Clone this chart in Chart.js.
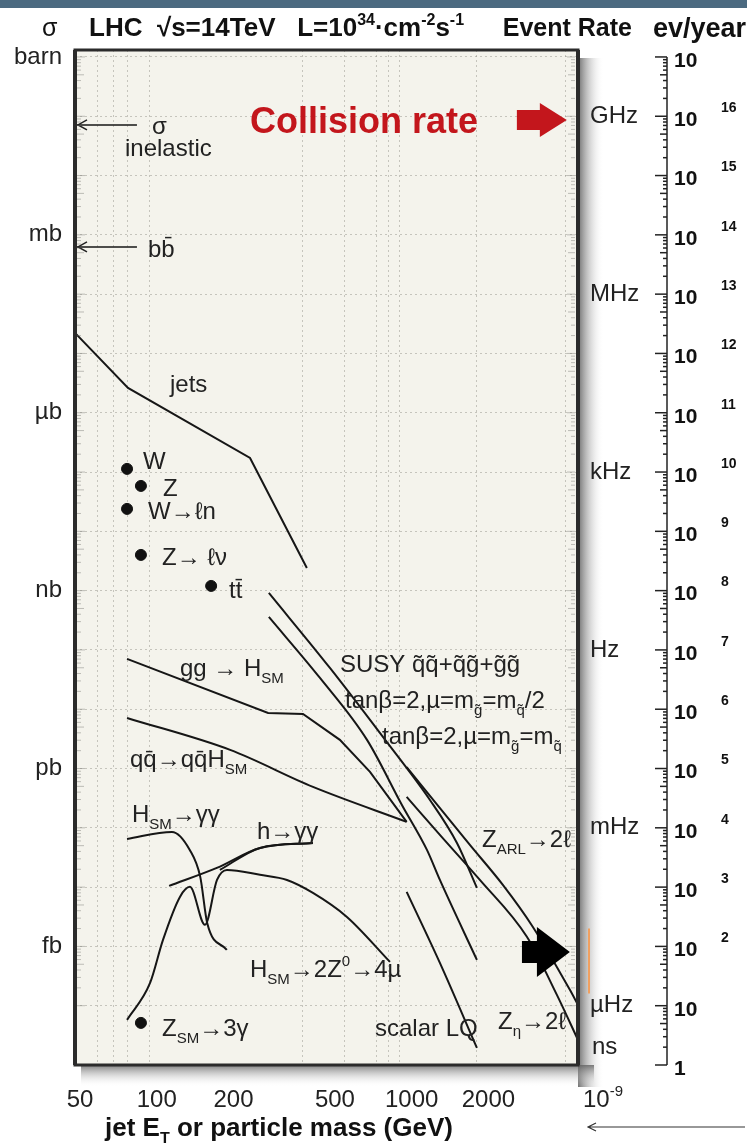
<!DOCTYPE html>
<html>
<head>
<meta charset="utf-8">
<title>LHC cross sections and event rates</title>
<script src="https://cdn.jsdelivr.net/npm/chart.js@4.4.1/dist/chart.umd.min.js"></script>
<style>
  html, body { margin: 0; padding: 0; background: #fff; }
  #box { width: 747px; height: 1143px; }
</style>
</head>
<body>
<div id="box"><canvas id="lhc" width="747" height="1143"></canvas></div>
<script>
const FONT = '"Liberation Sans", Arial, sans-serif';

// ranges: mass in GeV, sigma in barn
const massMin = 50, massMax = 4700;
const sigmaMin = 1e-17, sigmaMax = 1.31;
const toHz = 1e10;     // sigma[barn] * L(1e34 cm-2 s-1) -> Hz
const toYear = 1e17;   // ... * 1e7 s -> events / year

// tick lists
const massLabels = [50, 100, 200, 500, 1000, 2000];
const massGridLines = [61, 71, 80, 98, 391, 570, 760, 850, 940, 1880, 4200];
const sigmaExp = [0, -1, -2, -3, -4, -5, -6, -7, -8, -9, -10, -11, -12, -13, -14, -15, -16, -17];
const sigmaNames = { '0': 'barn', '-3': 'mb', '-6': 'µb', '-9': 'nb', '-12': 'pb', '-15': 'fb' };
const rateValues = [1e9, 1e6, 1e3, 1, 1e-3, 1e-6];
const rateNames = ['GHz', 'MHz', 'kHz', 'Hz', 'mHz', 'µHz'];
const yearExp = [17, 16, 15, 14, 13, 12, 11, 10, 9, 8, 7, 6, 5, 4, 3, 2, 1, 0];

// curves (x = GeV, y = barn)
const jetsX = [50, 80.7, 243, 406];
const jetsY = [2.22e-5, 2.62e-6, 1.73e-7, 2.41e-9];
const ggHX = [80, 286, 392, 547, 718, 1000];
const ggHY = [7.05e-11, 8.67e-12, 8.34e-12, 3.04e-12, 8.77e-13, 1.26e-13];
const qqHX = [80, 203, 429, 1000];
const qqHY = [7.13e-12, 2.06e-12, 4.90e-13, 1.26e-13];
const susyAX = [288, 500, 807, 1234, 1575, 1886];
const susyAY = [9.14e-10, 4.97e-11, 3.41e-12, 2.95e-13, 5.56e-14, 9.71e-15];
const susyBX = [288, 457, 699, 958, 1201, 1350, 1886];
const susyBY = [3.60e-10, 3.37e-11, 3.04e-12, 2.43e-13, 4.24e-14, 1.32e-14, 5.92e-16];
const zarlX = [1000, 1770, 2384, 3127, 4367, 4700];
const zarlY = [1.06e-12, 5.15e-14, 1.09e-14, 2.13e-15, 1.85e-16, 1.03e-16];
const zetaX = [1000, 1350, 1937, 2962, 3884, 4700];
const zetaY = [3.32e-13, 7.59e-14, 1.32e-14, 1.45e-15, 1.52e-16, 2.65e-17];
const lqX = [1000, 1350, 1886];
const lqY = [8.3e-15, 5.27e-16, 1.94e-17];
const hggX = [80, 120, 141, 155, 165, 197];
const hggY = [6.5e-14, 8.53e-14, 4.24e-14, 1.49e-14, 2.49e-15, 8.73e-16];
const hmssmX = [117, 180, 266, 429];
const hmssmY = [1.05e-14, 2.11e-14, 4.58e-14, 5.56e-14];
const hmssm2X = [185, 266, 429];
const hmssm2Y = [1.95e-14, 4.58e-14, 5.56e-14];
const h4muX = [80, 98.5, 110.7, 129, 141.2, 161.7, 180.3, 197.3, 265.8, 339.2, 428.9, 583, 860];
const h4muY = [5.77e-17, 2.42e-16, 1.29e-15, 6.84e-15, 1.01e-14, 2.31e-15, 1.32e-14, 1.95e-14, 1.61e-14, 1.32e-14, 7.98e-15, 3.14e-15, 5.48e-16];

// single processes (dots): W, Z, W->lnu, Z->ll, ttbar, Z->3gamma
const dotX = [80, 90.7, 80, 90.7, 171, 90.7];
const dotY = [1.13e-7, 5.83e-8, 2.39e-8, 4.0e-9, 1.2e-9, 5.13e-17];

// total inelastic and b-bbar marks on the sigma axis
const sigmaInel = 7.13e-2, sigmaBB = 6.25e-4, markEnd = 87.5;

// block arrows: [tail, head base, tip] in GeV, level in barn
const redArrow = { x: [2706, 3330, 4249], y: 0.0866 };
const blackArrow = { x: [2833, 3243, 4367], y: 8.07e-16 };

// text inside the plot
const notes = [
  { t: 'σ', x: 152, y: 125 },
  { t: 'inelastic', x: 125, y: 147 },
  { t: 'bb̄', x: 148, y: 248 },
  { t: 'jets', x: 170, y: 383 },
  { t: 'W', x: 143, y: 460 },
  { t: 'Z', x: 163, y: 487 },
  { t: 'W→ℓn', x: 148, y: 510 },
  { t: 'Z→ ℓν', x: 162, y: 556 },
  { t: 'tt̄', x: 229, y: 589 },
  { t: 'gg → H_{SM}', x: 180, y: 667 },
  { t: 'SUSY q̃q̃+q̃g̃+g̃g̃', x: 340, y: 663 },
  { t: 'tanβ=2,µ=m_{g̃}=m_{q̃}/2', x: 345, y: 699 },
  { t: 'tanβ=2,µ=m_{g̃}=m_{q̃}', x: 382, y: 735 },
  { t: 'qq̄→qq̄H_{SM}', x: 130, y: 758 },
  { t: 'H_{SM}→γγ', x: 132, y: 813 },
  { t: 'h→γγ', x: 257, y: 830 },
  { t: 'Z_{ARL}→2ℓ', x: 482, y: 838 },
  { t: 'H_{SM}→2Z^{0}→4µ', x: 250, y: 968 },
  { t: 'Z_{SM}→3γ', x: 162, y: 1027 },
  { t: 'scalar LQ', x: 375, y: 1027 },
  { t: 'Z_{η}→2ℓ', x: 498, y: 1020 }
];

const pts = (xs, ys) => xs.map((x, i) => ({ x: x, y: ys[i] }));

function curve(xs, ys, smooth) {
  return {
    type: 'line',
    data: pts(xs, ys),
    borderColor: '#161616',
    borderWidth: 2,
    pointRadius: 0,
    tension: smooth ? 0.3 : 0,
    cubicInterpolationMode: smooth ? 'monotone' : 'default',
    fill: false,
    xAxisID: 'x',
    yAxisID: 'y'
  };
}

function richText(ctx, str, x, yMid, size, weight, color) {
  const parts = [];
  const re = /([_^])\{([^}]*)\}/g;
  let last = 0, m;
  while ((m = re.exec(str))) {
    if (m.index > last) parts.push({ t: str.slice(last, m.index), s: 0 });
    parts.push({ t: m[2], s: m[1] === '_' ? 1 : -1 });
    last = re.lastIndex;
  }
  if (last < str.length) parts.push({ t: str.slice(last), s: 0 });
  const small = Math.round(size * 0.62);
  const base = yMid + size * 0.36;
  let cx = x;
  ctx.fillStyle = color;
  ctx.textAlign = 'left';
  ctx.textBaseline = 'alphabetic';
  parts.forEach(p => {
    ctx.font = weight + ' ' + (p.s ? small : size) + 'px ' + FONT;
    const dy = p.s === 1 ? size * 0.3 : p.s === -1 ? -size * 0.45 : 0;
    ctx.fillText(p.t, cx, base + dy);
    cx += ctx.measureText(p.t).width;
  });
  return cx;
}

function textWidth(ctx, str, size, weight) {
  ctx.font = weight + ' ' + size + 'px ' + FONT;
  return ctx.measureText(str).width;
}

function blockArrow(ctx, xs, ys, spec, body, head, color) {
  const x0 = xs.getPixelForValue(spec.x[0]);
  const x1 = xs.getPixelForValue(spec.x[1]);
  const x2 = xs.getPixelForValue(spec.x[2]);
  const y = ys.getPixelForValue(spec.y);
  ctx.fillStyle = color;
  ctx.beginPath();
  ctx.moveTo(x0, y - body / 2);
  ctx.lineTo(x1, y - body / 2);
  ctx.lineTo(x1, y - head / 2);
  ctx.lineTo(x2, y);
  ctx.lineTo(x1, y + head / 2);
  ctx.lineTo(x1, y + body / 2);
  ctx.lineTo(x0, y + body / 2);
  ctx.closePath();
  ctx.fill();
}

// log ruler ticks along a vertical line; dir = +1 ticks to the right, -1 to the left
function ruler(ctx, scale, exps, x, dir, major, minor) {
  exps.forEach(e => {
    const y = scale.getPixelForValue(Math.pow(10, e));
    ctx.beginPath();
    ctx.moveTo(x, y);
    ctx.lineTo(x + dir * major, y);
    ctx.stroke();
    for (let k = 2; k <= 9; k++) {
      const v = k * Math.pow(10, e);
      if (v > scale.max) break;
      const ym = scale.getPixelForValue(v);
      ctx.beginPath();
      ctx.moveTo(x, ym);
      ctx.lineTo(x + dir * (k === 5 ? minor + 3 : minor), ym);
      ctx.stroke();
    }
  });
}

const decor = {
  id: 'decor',
  beforeDraw(chart) {
    const { ctx, chartArea: a } = chart;
    ctx.save();
    ctx.fillStyle = '#fff';
    ctx.fillRect(0, 0, chart.width, chart.height);
    ctx.fillStyle = '#4b6a80';
    ctx.fillRect(0, 0, chart.width, 8);
    // shadow right and below the frame
    let g = ctx.createLinearGradient(a.right, 0, a.right + 26, 0);
    g.addColorStop(0, 'rgba(95,95,95,0.9)');
    g.addColorStop(1, 'rgba(255,255,255,0)');
    ctx.fillStyle = g;
    ctx.fillRect(a.right, a.top + 8, 26, a.bottom - a.top + 14);
    g = ctx.createLinearGradient(0, a.bottom, 0, a.bottom + 22);
    g.addColorStop(0, 'rgba(95,95,95,0.8)');
    g.addColorStop(1, 'rgba(255,255,255,0)');
    ctx.fillStyle = g;
    ctx.fillRect(a.left + 6, a.bottom, a.right - a.left + 10, 22);
    ctx.fillStyle = '#f4f3ec';
    ctx.fillRect(a.left, a.top, a.right - a.left, a.bottom - a.top);
    ctx.restore();
  },
  afterDraw(chart) {
    const { ctx, chartArea: a, scales } = chart;
    const xs = scales.x, ys = scales.y, yr = scales.year;
    ctx.save();

    // marks for sigma_inel and b-bbar
    ctx.strokeStyle = '#222';
    ctx.lineWidth = 1.5;
    [sigmaInel, sigmaBB].forEach(v => {
      const y = ys.getPixelForValue(v);
      const x0 = xs.getPixelForValue(massMin) + 3;
      ctx.beginPath();
      ctx.moveTo(x0 + 9, y - 5);
      ctx.lineTo(x0, y);
      ctx.lineTo(x0 + 9, y + 5);
      ctx.stroke();
    });

    blockArrow(ctx, xs, ys, redArrow, 20, 34, '#c3161c');
    blockArrow(ctx, xs, ys, blackArrow, 22, 50, '#000');

    // labels inside the frame
    ctx.save();
    ctx.beginPath();
    ctx.rect(a.left, a.top, a.right - a.left - 2, a.bottom - a.top);
    ctx.clip();
    notes.forEach(n => richText(ctx, n.t, n.x, n.y, 24, 'normal', '#222'));
    ctx.restore();
    richText(ctx, 'Collision rate', 250, 120, 36, 'bold', '#c3161c');

    // faint ruler ticks inside the frame
    ctx.strokeStyle = 'rgba(120,120,115,0.45)';
    ctx.lineWidth = 1;
    ruler(ctx, ys, sigmaExp.slice(0, 17), a.left + 2, 1, 8, 4);
    ruler(ctx, ys, sigmaExp.slice(0, 17), a.right - 3, -1, 8, 4);

    // frame
    ctx.strokeStyle = '#2b2b2b';
    ctx.lineWidth = 3;
    ctx.strokeRect(a.left, a.top, a.right - a.left, a.bottom - a.top);
    ctx.lineWidth = 4;
    ctx.beginPath();
    ctx.moveTo(a.left, a.top);
    ctx.lineTo(a.left, a.bottom);
    ctx.moveTo(a.right, a.top);
    ctx.lineTo(a.right, a.bottom);
    ctx.stroke();

    // events / year ruler
    const lineX = yr.left + 17;
    ctx.strokeStyle = '#222';
    ctx.lineWidth = 1.5;
    const yTop = yr.getPixelForValue(1e17), yBot = yr.getPixelForValue(1);
    ctx.beginPath();
    ctx.moveTo(lineX, yTop);
    ctx.lineTo(lineX, yBot);
    ctx.stroke();
    ruler(ctx, yr, yearExp.slice(1), lineX, -1, 12, 4);
    ctx.beginPath();
    ctx.moveTo(lineX - 12, yTop);
    ctx.lineTo(lineX, yTop);
    ctx.stroke();
    ctx.font = 'bold 14px ' + FONT;
    ctx.fillStyle = '#111';
    ctx.textAlign = 'left';
    ctx.textBaseline = 'middle';
    yearExp.forEach(e => {
      if (e >= 2 && e <= 16) ctx.fillText(String(e), 721, yr.getPixelForValue(Math.pow(10, e)) - 8);
    });

    // orange mark beside the frame
    ctx.strokeStyle = '#f0a060';
    ctx.lineWidth = 2;
    ctx.beginPath();
    ctx.moveTo(589, ys.getPixelForValue(2.0e-15));
    ctx.lineTo(589, ys.getPixelForValue(1.6e-16));
    ctx.stroke();

    // header
    richText(ctx, 'σ', 42, 27, 25, 'normal', '#111');
    richText(ctx, 'LHC  √s=14TeV   L=10^{34}·cm^{-2}s^{-1}', 89, 27, 26, 'bold', '#111');
    richText(ctx, 'Event Rate', 632 - textWidth(ctx, 'Event Rate', 25, 'bold'), 27, 25, 'bold', '#111');
    richText(ctx, 'ev/year', 746 - textWidth(ctx, 'ev/year', 27, 'bold'), 27, 27, 'bold', '#111');

    // extra texts on the right / bottom
    richText(ctx, 'ns', 592, 1045, 24, 'normal', '#222');
    richText(ctx, '10^{-9}', 583, 1098, 24, 'normal', '#222');
    richText(ctx, 'jet E_{T} or particle mass (GeV)', 105, 1127, 26, 'bold', '#111');
    ctx.strokeStyle = '#333';
    ctx.lineWidth = 1.2;
    ctx.beginPath();
    ctx.moveTo(745, 1127);
    ctx.lineTo(588, 1127);
    ctx.moveTo(596, 1123);
    ctx.lineTo(588, 1127);
    ctx.lineTo(596, 1131);
    ctx.stroke();
    ctx.restore();
  }
};

const gridStyle = { color: 'rgba(140,140,130,0.45)', lineWidth: 1, drawTicks: false };

new Chart(document.getElementById('lhc'), {
  data: {
    datasets: [
      curve(jetsX, jetsY, false),
      curve(ggHX, ggHY, false),
      curve(qqHX, qqHY, true),
      curve(susyAX, susyAY, true),
      curve(susyBX, susyBY, true),
      curve(zarlX, zarlY, true),
      curve(zetaX, zetaY, true),
      curve(lqX, lqY, true),
      curve(hggX, hggY, true),
      curve(hmssmX, hmssmY, true),
      curve(hmssm2X, hmssm2Y, true),
      curve(h4muX, h4muY, true),
      Object.assign(curve([markEnd, massMin], [sigmaInel, sigmaInel], false), { borderWidth: 1.5 }),
      Object.assign(curve([markEnd, massMin], [sigmaBB, sigmaBB], false), { borderWidth: 1.5 }),
      {
        type: 'scatter',
        data: pts(dotX, dotY),
        pointRadius: 5.5,
        pointBackgroundColor: '#111',
        pointBorderColor: '#111',
        xAxisID: 'x',
        yAxisID: 'y'
      }
    ]
  },
  options: {
    responsive: false,
    animation: false,
    devicePixelRatio: 1,
    layout: { padding: { top: 50, left: 0, right: 0, bottom: 0 } },
    plugins: { legend: { display: false }, tooltip: { enabled: false } },
    scales: {
      x: {
        type: 'logarithmic',
        min: massMin,
        max: massMax,
        position: 'bottom',
        afterBuildTicks: s => { s.ticks = massLabels.map(v => ({ value: v })); },
        afterFit: s => { s.height = 78; },
        ticks: {
          autoSkip: false,
          maxRotation: 0,
          padding: 21,
          labelOffset: 5,
          color: '#222',
          font: { family: FONT, size: 24 },
          callback: (v, i) => String(massLabels[i])
        },
        grid: { display: false, drawTicks: false },
        border: { display: false }
      },
      xgrid: {
        type: 'logarithmic',
        min: massMin,
        max: massMax,
        position: 'top',
        afterBuildTicks: s => { s.ticks = massGridLines.map(v => ({ value: v })); },
        afterFit: s => { s.height = 0; },
        ticks: { display: false },
        grid: gridStyle,
        border: { display: false, dash: [2, 3] }
      },
      y: {
        type: 'logarithmic',
        min: sigmaMin,
        max: sigmaMax,
        position: 'left',
        afterBuildTicks: s => { s.ticks = sigmaExp.map(e => ({ value: Math.pow(10, e) })); },
        afterFit: s => { s.width = 75; },
        ticks: {
          autoSkip: false,
          padding: 13,
          color: '#222',
          font: { family: FONT, size: 24 },
          callback: (v, i) => sigmaNames[String(sigmaExp[i])] || ''
        },
        grid: gridStyle,
        border: { display: false, dash: [2, 3] }
      },
      rate: {
        type: 'logarithmic',
        min: sigmaMin * toHz,
        max: sigmaMax * toHz,
        position: 'right',
        weight: 0,
        afterBuildTicks: s => { s.ticks = rateValues.map(v => ({ value: v })); },
        afterFit: s => { s.width = 72; },
        ticks: {
          autoSkip: false,
          padding: 12,
          color: '#222',
          font: { family: FONT, size: 24 },
          callback: (v, i) => rateNames[i]
        },
        grid: { display: false, drawTicks: false },
        border: { display: false }
      },
      year: {
        type: 'logarithmic',
        min: sigmaMin * toYear,
        max: sigmaMax * toYear,
        position: 'right',
        weight: 1,
        afterBuildTicks: s => { s.ticks = yearExp.map(e => ({ value: Math.pow(10, e) })); },
        afterFit: s => { s.width = 97; },
        ticks: {
          autoSkip: false,
          padding: 24,
          labelOffset: 4,
          color: '#111',
          font: { family: FONT, size: 21, weight: 'bold' },
          callback: (v, i) => yearExp[i] === 0 ? '1' : '10'
        },
        grid: { display: false, drawTicks: false },
        border: { display: false }
      }
    }
  },
  plugins: [decor]
});
</script>
</body>
</html>
